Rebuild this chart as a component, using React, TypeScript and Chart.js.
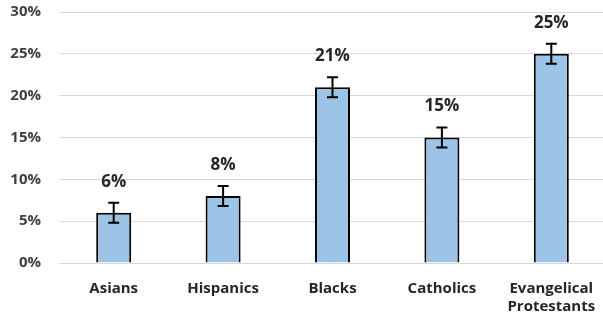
import React, { useEffect, useRef } from "react";
import { Chart, registerables } from "chart.js";

Chart.register(...registerables);

const categories: (string | string[])[] = ["Asians", "Hispanics", "Blacks", "Catholics", ["Evangelical", "Protestants"]];
const values = [0.06, 0.08, 0.21, 0.15, 0.25];
const errors = [0.012, 0.012, 0.012, 0.012, 0.012];
const valueLabels = ["6%", "8%", "21%", "15%", "25%"];
const yTicks = [0, 0.05, 0.1, 0.15, 0.2, 0.25, 0.3];

const FONT = "'Open Sans', 'Liberation Sans', sans-serif";

const errorBarPlugin = {
  id: "errorBars",
  afterDatasetsDraw(chart: any) {
    const ctx = chart.ctx;
    const meta = chart.getDatasetMeta(0);
    const y = chart.scales.y;
    ctx.save();
    meta.data.forEach((bar: any, i: number) => {
      const x = bar.x;
      const hi = y.getPixelForValue(values[i] + errors[i]);
      const lo = y.getPixelForValue(values[i] - errors[i]);
      ctx.strokeStyle = "#000000";
      ctx.lineWidth = 2;
      ctx.beginPath();
      ctx.moveTo(x, hi);
      ctx.lineTo(x, lo);
      ctx.moveTo(x - 5.5, hi);
      ctx.lineTo(x + 5.5, hi);
      ctx.moveTo(x - 5.5, lo);
      ctx.lineTo(x + 5.5, lo);
      ctx.stroke();
      ctx.fillStyle = "#262626";
      ctx.font = `bold 17px ${FONT}`;
      ctx.textAlign = "center";
      ctx.textBaseline = "alphabetic";
      ctx.fillText(valueLabels[i], x, hi - 16);
    });
    ctx.restore();
  },
};

export default function App() {
  const ref = useRef<HTMLCanvasElement>(null);
  useEffect(() => {
    document.body.style.margin = "0";
    const chart = new Chart(ref.current as HTMLCanvasElement, {
      type: "bar",
      data: {
        labels: categories as any,
        datasets: [
          {
            data: values,
            backgroundColor: "#9dc3e6",
            borderColor: "#000000",
            borderWidth: 2,
            barPercentage: 0.32,
            categoryPercentage: 1,
          },
        ],
      },
      options: {
        responsive: false,
        animation: false,
        layout: { padding: { top: 12, right: 0, left: 0, bottom: 0 } },
        plugins: { legend: { display: false }, tooltip: { enabled: false } },
        scales: {
          x: {
            grid: { display: false, drawTicks: false },
            border: { display: false },
            ticks: {
              padding: 17,
              color: "#262626",
              font: { family: FONT, size: 15, weight: "bold", lineHeight: 1.2 },
              maxRotation: 0,
              autoSkip: false,
            },
            afterFit: (axis: any) => {
              axis.height = 57;
              axis.paddingLeft = 0;
              axis.paddingRight = 0;
            },
          },
          y: {
            min: 0,
            max: 0.3,
            afterBuildTicks: (axis: any) => {
              axis.ticks = yTicks.map((v) => ({ value: v }));
            },
            grid: { color: "#d9d9d9", lineWidth: 1, drawTicks: false },
            border: { display: false },
            ticks: {
              padding: 18,
              color: "#404040",
              font: { family: FONT, size: 15, weight: "bold" },
              callback: (v: any) => Math.round(Number(v) * 100) + "%",
            },
            afterFit: (axis: any) => {
              axis.width = 59;
              axis.paddingTop = 0;
              axis.paddingBottom = 0;
            },
          },
        },
      },
      plugins: [errorBarPlugin],
    });
    return () => chart.destroy();
  }, []);
  return (
    <div style={{ width: 603, height: 320, overflow: "hidden", position: "relative" }}>
      <canvas ref={ref} width={606} height={320} style={{ display: "block" }} />
    </div>
  );
}
